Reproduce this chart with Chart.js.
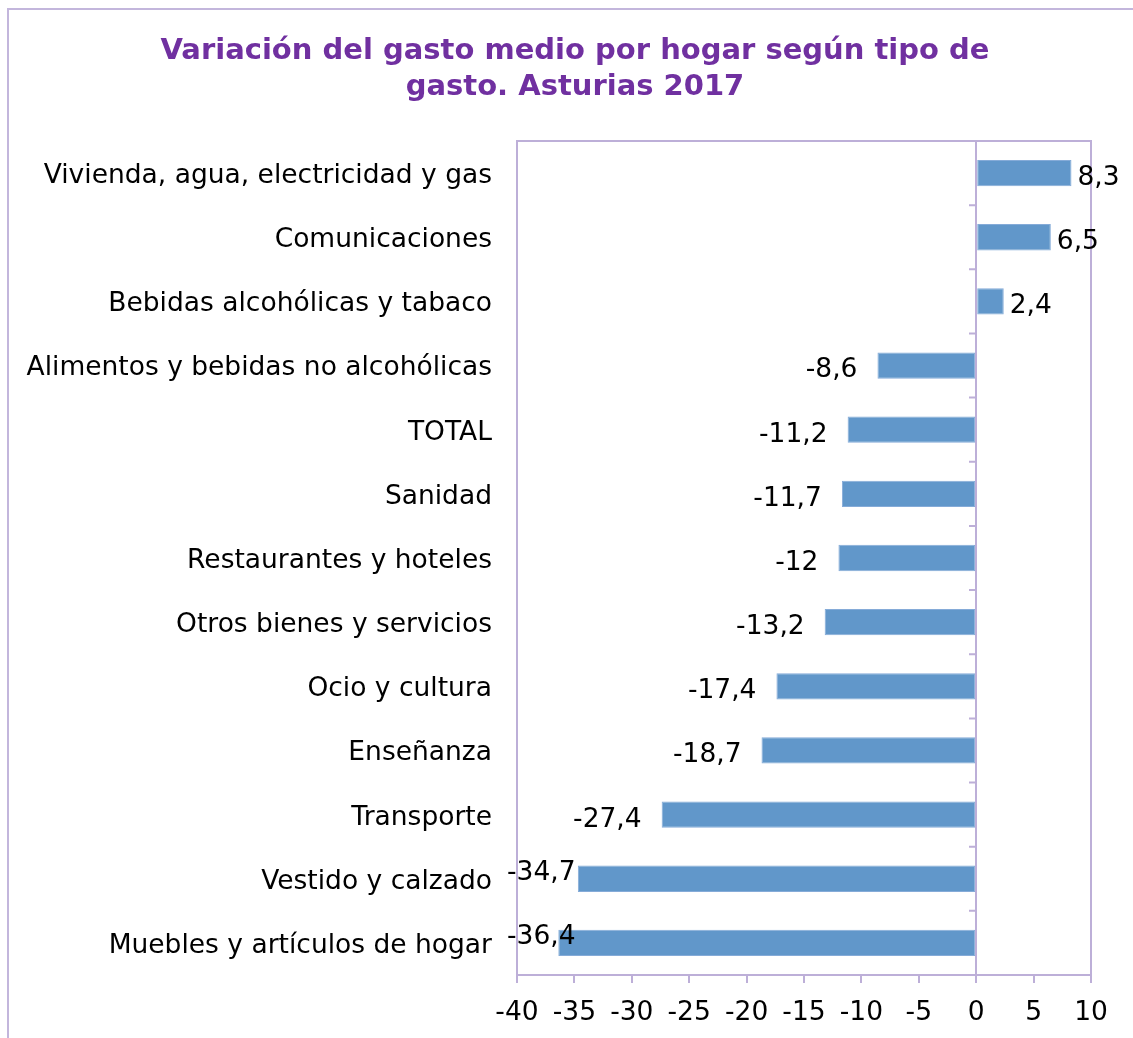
<!DOCTYPE html>
<html><head><meta charset="utf-8">
<script src="https://cdn.jsdelivr.net/npm/chart.js@4/dist/chart.umd.min.js"></script>
<style>html,body{margin:0;padding:0;background:#fff}</style>
</head><body>
<canvas id="c" width="1133" height="1038" style="display:block;width:1133px;height:1038px"></canvas>
<script>
const titleLines = ['Variación del gasto medio por hogar según tipo de', 'gasto. Asturias 2017'];
const categories = [
  'Vivienda, agua, electricidad y gas',
  'Comunicaciones',
  'Bebidas alcohólicas y tabaco',
  'Alimentos y bebidas no alcohólicas',
  'TOTAL',
  'Sanidad',
  'Restaurantes y hoteles',
  'Otros bienes y servicios',
  'Ocio y cultura',
  'Enseñanza',
  'Transporte',
  'Vestido y calzado',
  'Muebles y artículos de hogar'
];
const values = [8.3, 6.5, 2.4, -8.6, -11.2, -11.7, -12, -13.2, -17.4, -18.7, -27.4, -34.7, -36.4];
const xMin = -40, xMax = 10, xStep = 5;

const FONT = '"DejaVu Sans", Verdana, sans-serif';
const FSIZE = 26.5;
const AXIS_COLOR = '#BDAFD8';
const fmt = v => String(v).replace('.', ',');

const decor = {
  id: 'decor',
  beforeDraw(chart) {
    const ctx = chart.ctx;
    ctx.save();
    ctx.fillStyle = '#fff';
    ctx.fillRect(0, 0, chart.width, chart.height);
    ctx.strokeStyle = '#C3B6DC';
    ctx.lineWidth = 2;
    ctx.beginPath();
    ctx.moveTo(8, chart.height + 2);
    ctx.lineTo(8, 9);
    ctx.lineTo(chart.width + 2, 9);
    ctx.stroke();
    ctx.fillStyle = '#7030A0';
    ctx.font = 'bold 29px ' + FONT;
    ctx.textAlign = 'center';
    ctx.textBaseline = 'middle';
    ctx.fillText(titleLines[0], 575, 51);
    ctx.fillText(titleLines[1], 575, 87);
    ctx.restore();
  },
  afterDatasetsDraw(chart) {
    const ctx = chart.ctx;
    const a = chart.chartArea;
    const xs = chart.scales.x, ys = chart.scales.y;
    ctx.save();
    ctx.strokeStyle = AXIS_COLOR;
    ctx.lineWidth = 2;
    ctx.strokeRect(a.left, a.top, a.right - a.left, a.bottom - a.top);
    const x0 = Math.round(xs.getPixelForValue(0));
    ctx.beginPath();
    ctx.moveTo(x0, a.top);
    ctx.lineTo(x0, a.bottom);
    for (let i = 0; i < categories.length - 1; i++) {
      const y = (ys.getPixelForValue(i) + ys.getPixelForValue(i + 1)) / 2;
      ctx.moveTo(x0 - 7, y);
      ctx.lineTo(x0, y);
    }
    ctx.stroke();
    ctx.fillStyle = '#000';
    ctx.font = FSIZE + 'px ' + FONT;
    ctx.textBaseline = 'middle';
    const meta = chart.getDatasetMeta(0);
    meta.data.forEach((bar, i) => {
      const v = values[i];
      const t = fmt(v);
      const w = ctx.measureText(t).width;
      let y = bar.y + 5;
      if (v >= 0) {
        ctx.textAlign = 'left';
        ctx.fillText(t, bar.x + 6, y);
      } else {
        let xr = bar.x - 20;
        const minLeft = a.left - 10;
        if (xr - w < minLeft) { xr = minLeft + w; y = bar.y - 6; }
        ctx.textAlign = 'right';
        ctx.fillText(t, xr, y);
      }
    });
    ctx.restore();
  }
};

new Chart(document.getElementById('c'), {
  type: 'bar',
  data: {
    labels: categories,
    datasets: [{
      data: values,
      backgroundColor: '#6197CA',
      borderColor: '#85ABD8',
      borderWidth: 1,
      borderSkipped: false,
      categoryPercentage: 1,
      barPercentage: 0.41
    }]
  },
  options: {
    indexAxis: 'y',
    responsive: false,
    animation: false,
    devicePixelRatio: 1,
    layout: { padding: { top: 141, right: 42, bottom: 0, left: 0 } },
    plugins: { legend: { display: false }, title: { display: false }, tooltip: { enabled: false } },
    scales: {
      x: {
        min: xMin, max: xMax,
        afterFit(s) { s.height = 63; },
        ticks: { stepSize: xStep, color: '#000', font: { family: FONT, size: FSIZE }, padding: 14, maxRotation: 0, autoSkip: false },
        grid: { drawOnChartArea: false, drawTicks: true, tickLength: 8, color: AXIS_COLOR, lineWidth: 2 },
        border: { display: true, color: AXIS_COLOR, width: 2 }
      },
      y: {
        afterFit(s) { s.width = 517; },
        ticks: { color: '#000', font: { family: FONT, size: FSIZE }, padding: 17, autoSkip: false, labelOffset: 3 },
        grid: { display: false },
        border: { display: true, color: AXIS_COLOR, width: 2 }
      }
    }
  },
  plugins: [decor]
});
</script>
</body></html>
